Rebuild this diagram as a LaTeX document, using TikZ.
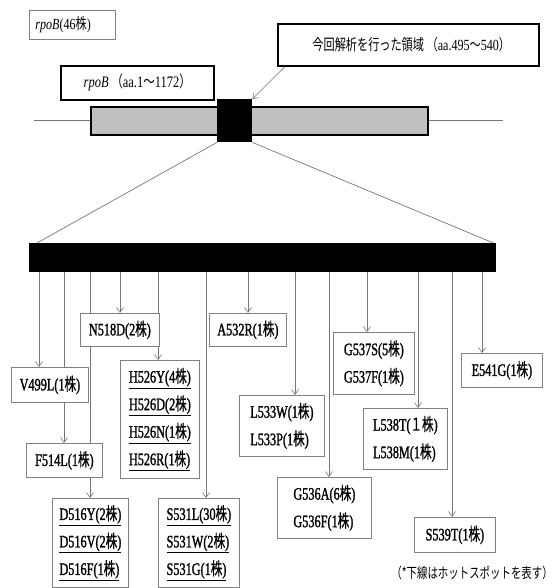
\documentclass[tikz,border=0pt]{standalone}
\usepackage{fontspec}
\setmainfont{Liberation Serif}[FakeStretch=0.78]
\newfontfamily\mfont{Liberation Serif}[FakeStretch=0.7, FakeBold=1.3]
\newfontfamily\jp{Noto Sans CJK JP}[FakeStretch=0.72]
\newfontfamily\jpb{Noto Sans CJK JP}[FakeStretch=0.66, FakeBold=0.6]
\usetikzlibrary{arrows.meta,backgrounds}
\definecolor{boxgray}{HTML}{808080}
\definecolor{linegray}{HTML}{767676}
\definecolor{bargray}{HTML}{C0C0C0}
\def\kfont{\jp}
\newcommand{\K}{{\kfont 株}}
\newcommand{\U}[1]{\underline{#1}}
\tikzset{
  mbox/.style={draw=boxgray, line width=0.8pt, fill=white, inner sep=0pt, anchor=north west,
    align=left, font=\fontsize{17.5}{27.5}\selectfont\mfont\def\kfont{\jpb}},
  bbox/.style={draw=black, line width=1.6pt, fill=white, inner sep=0pt, anchor=north west,
    font=\fontsize{15.5}{17}\selectfont},
  tbox/.style={draw=boxgray, line width=0.9pt, fill=white, inner xsep=6pt, inner ysep=0pt, anchor=north west,
    align=left, font=\fontsize{15.5}{17}\selectfont},
  arr/.style={draw=linegray, line width=0.6pt, -{Straight Barb[length=5pt,width=7pt]}},
  thinline/.style={draw=linegray, line width=0.7pt},
}
\newcommand{\mbx}[6]{\node[mbox,minimum width=#4-#2,minimum height=#5-#3] (#1) at (#2,#3) {#6};}
\begin{document}
\begin{tikzpicture}[x=1pt,y=-1pt]
\useasboundingbox (0,0) rectangle (554,588);
% top part
\node[tbox, text width=74pt, minimum height=29] (r46) at (29,10) {\textit{rpoB}(46\K)};
\node[bbox, minimum width=261, minimum height=42] (reg) at (277,23)
  {\hspace*{6pt}{\jp 今回解析を行った領域\,（}aa.495{\jp ～}540{\jp ）}};
\node[bbox, minimum width=153, minimum height=34, font=\fontsize{16}{18}\selectfont] (rab) at (60,65)
  {\textit{rpoB}\,{\jp （}aa.1{\jp ～}1172{\jp ）}};
\coordinate (lL) at (34,120);
\coordinate (lR) at (503,120);
\draw[thinline] (lL) -- (lR);
\node[fill=bargray, draw=black, line width=1.6pt, anchor=north west, minimum width=337, minimum height=28, inner sep=0pt] (gb) at (90,106) {};
\node[fill=black, anchor=north west, minimum width=35, minimum height=43, inner sep=0pt] (sq) at (217,99) {};
\draw[arr] ([xshift=8pt]reg.south west) -- (sq.north east);
% zoomed bar
\node[fill=black, anchor=north west, minimum width=467, minimum height=29, inner sep=0pt] (bar) at (29,243) {};
\draw[thinline] (sq.south west) -- ([xshift=8pt]bar.north west);
\draw[thinline] (sq.south east) -- ([xshift=-3pt]bar.north east);
% mutation boxes
\mbx{V}{11}{367}{88}{402}{V499L(1\K)}
\mbx{F}{26}{443}{102}{477}{F514L(1\K)}
\mbx{N}{80}{313}{159}{346}{N518D(2\K)}
\mbx{H}{120}{360}{199}{478}{\U{H526Y(4\K)}\\\U{H526D(2\K)}\\\U{H526N(1\K)}\\\U{H526R(1\K)}}
\mbx{D}{52}{498}{128}{587}{\U{D516Y(2\K)}\\\U{D516V(2\K)}\\\U{D516F(1\K)}}
\mbx{S}{158}{498}{239}{587}{\U{S531L(30\K)}\\\U{S531W(2\K)}\\\U{S531G(1\K)}}
\mbx{A}{209}{313}{286}{346}{A532R(1\K)}
\mbx{L3}{239}{395}{324}{456}{L533W(1\K)\\L533P(1\K)}
\mbx{G6}{277}{477}{371}{538}{G536A(6\K)\\G536F(1\K)}
\mbx{G7}{333}{332}{414}{394}{G537S(5\K)\\G537F(1\K)}
\mbx{L8}{363}{408}{447}{469}{L538T({\kfont １}\K)\\L538M(1\K)}
\mbx{T}{414}{517}{495}{552}{S539T(1\K)}
\mbx{E}{461}{353}{542}{387}{E541G(1\K)}
% arrow x positions
\foreach \n/\x in {a/39,b/64,c/90,d/120,e/158,f/206,g/248,h/295,i/329,j/367,k/418,l/452,m/482}
  \coordinate (x\n) at (\x,0);
\begin{scope}[on background layer]
\draw[arr] (bar.south -| xa) -- (V.north -| xa);
\draw[arr] (bar.south -| xb) -- (F.north -| xb);
\draw[arr] (bar.south -| xc) -- (D.north -| xc);
\draw[arr] (bar.south -| xd) -- (N.north -| xd);
\draw[arr] (bar.south -| xe) -- (H.north -| xe);
\draw[arr] (bar.south -| xf) -- (S.north -| xf);
\draw[arr] (bar.south -| xg) -- (A.north -| xg);
\draw[arr] (bar.south -| xh) -- (L3.north -| xh);
\draw[arr] (bar.south -| xi) -- (G6.north -| xi);
\draw[arr] (bar.south -| xj) -- (G7.north -| xj);
\draw[arr] (bar.south -| xk) -- (L8.north -| xk);
\draw[arr] (bar.south -| xl) -- (T.north -| xl);
\draw[arr] (bar.south -| xm) -- (E.north -| xm);
\end{scope}
% footnote
\node[font=\fontsize{14.5}{16}\selectfont\jp, anchor=east, inner sep=0pt] (note) at (553,573) {（*下線はホットスポットを表す）};
\end{tikzpicture}
\end{document}
